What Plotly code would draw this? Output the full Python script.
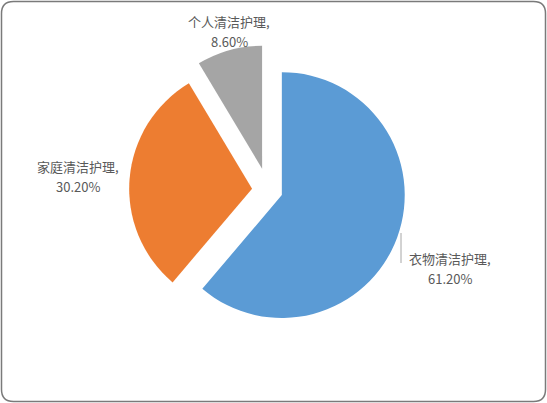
import plotly.graph_objects as go

labels = ["衣物清洁护理", "家庭清洁护理", "个人清洁护理"]
values = [61.2, 30.2, 8.6]
colors = ["#5B9BD5", "#ED7D31", "#A5A5A5"]
pulls = [0.12, 0.13, 0.18]
# where each data label sits (pixels from top-left), like the original
label_pos = [(450, 268), (78, 176), (229, 32)]

W, H = 547, 403
cx, cy, half = 268, 190, 145

fig = go.Figure(go.Pie(
    labels=labels,
    values=values,
    sort=False,
    direction="clockwise",
    rotation=0,
    pull=pulls,
    marker=dict(colors=colors, line=dict(width=0)),
    textinfo="none",
    domain=dict(x=[(cx - half) / W, (cx + half) / W],
                y=[(H - cy - half) / H, (H - cy + half) / H]),
    showlegend=False,
    hoverinfo="label+percent",
))

lab_font = dict(family="Noto Sans CJK SC", size=13, color="#595959")
for lab, val, (px_, py_) in zip(labels, values, label_pos):
    # two lines, ~20px apart as in the original
    for txt, dy in ((f"{lab},", -10), (f"{val:.2f}%", 10)):
        fig.add_annotation(
            text=txt, x=px_ / W, y=1 - (py_ + dy) / H,
            xref="paper", yref="paper", xanchor="center", yanchor="middle",
            showarrow=False, font=lab_font,
        )

# rounded frame around the chart area
rx, ry = 12 / W, 12 / H
x0, y0, x1, y1 = 1.5 / W, 1.5 / H, 1 - 1.5 / W, 1 - 1.5 / H
path = (f"M {x0 + rx},{y0} L {x1 - rx},{y0} Q {x1},{y0} {x1},{y0 + ry} "
        f"L {x1},{y1 - ry} Q {x1},{y1} {x1 - rx},{y1} "
        f"L {x0 + rx},{y1} Q {x0},{y1} {x0},{y1 - ry} "
        f"L {x0},{y0 + ry} Q {x0},{y0} {x0 + rx},{y0} Z")

fig.update_layout(
    width=W, height=H,
    showlegend=False,
    margin=dict(l=0, r=0, t=0, b=0, autoexpand=False),
    paper_bgcolor="white",
    font=dict(family="Noto Sans CJK SC", color="#595959"),
    shapes=[
        dict(type="path", xref="paper", yref="paper", path=path,
             line=dict(color="#7a7a7a", width=1.5)),
        # short leader line by the blue slice label
        dict(type="line", xref="paper", yref="paper",
             x0=401 / W, x1=401 / W, y0=1 - 233 / H, y1=1 - 263 / H,
             line=dict(color="#a6a6a6", width=1)),
    ],
)

fig.write_html("out.html", config={"displayModeBar": False},
               post_script="document.body.style.margin='0';")
